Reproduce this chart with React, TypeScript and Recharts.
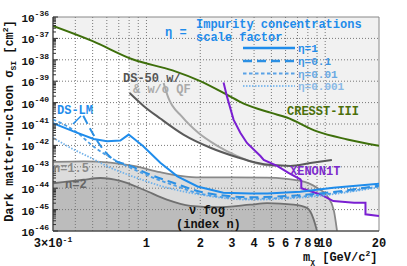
import { ComposedChart, Line, Area, XAxis, YAxis, ReferenceLine, ReferenceArea } from 'recharts';

const FONT = "'Liberation Mono', 'Courier New', monospace";

// CRESST-III limit
const cresstMass = [0.3, 0.5, 0.85, 1.4, 2.0, 2.8, 3.5, 5, 6.1, 9, 13.3, 20];
const cresstSigma = [3.8e-37, 7.4e-38, 1e-38, 3.2e-39, 1e-39, 2.4e-40, 8.9e-41, 3.3e-41, 2.0e-41, 4.5e-42, 1.9e-42, 9.5e-43];

// DS-50 with quenching fluctuations
const ds50QfMass = [0.805, 0.96, 1.195, 1.61, 2.28, 3.22, 4.07, 5.06, 6.38, 8.26, 10.9];
const ds50QfSigma = [2.8e-40, 7.2e-41, 1.8e-41, 3.2e-42, 7.8e-43, 2.8e-43, 1.6e-43, 1.2e-43, 1.1e-43, 1.5e-43, 2.1e-43];

// DS-50 without quenching fluctuations
const ds50NoQfMass = [1.247, 1.325, 1.58, 1.95, 2.48, 3.18, 4.34, 5.26];
const ds50NoQfSigma = [8.3e-40, 1.7e-40, 2.2e-41, 3.9e-42, 9.8e-43, 3.3e-43, 1.3e-43, 1.1e-43];

// XENON1T
const xenonMass = [2.7, 2.82, 3.07, 3.35, 3.65, 4.34, 4.53, 5.38, 6.23, 7.26, 7.35, 7.35, 9.42, 11.1, 14.5, 16.8, 16.8, 20];
const xenonSigma = [8.7e-40, 1.95e-40, 1.6e-41, 3.9e-42, 1.3e-42, 3.2e-43, 2.1e-43, 1.1e-43, 5.2e-44, 2.6e-44, 2.2e-44, 1e-44, 5.1e-45, 2.5e-45, 2.1e-45, 2.1e-45, 6e-46, 5e-46];

// DS-LM projections for impurity scale factor eta
const eta1Mass = [0.3, 0.391, 0.506, 0.601, 0.714, 0.795, 0.96, 1.195, 1.49, 1.93, 2.69, 3.81, 4.75, 7.26, 11.1, 20];
const eta1Sigma = [1.1e-41, 4.5e-42, 2.0e-42, 1.55e-42, 1.7e-42, 3.2e-42, 9.1e-43, 1.55e-43, 3.6e-44, 1.2e-44, 6.2e-45, 5.6e-45, 5.6e-45, 6.9e-45, 1.05e-44, 1.6e-44];
const eta01Mass = [0.443, 0.498, 0.574, 0.669, 0.782, 1.05, 1.41, 2.0, 3.81, 7.26, 20];
const eta01Sigma = [2.45e-41, 3.9e-42, 6.3e-43, 1.9e-43, 1.26e-43, 4.3e-44, 1.8e-44, 6.9e-45, 3.8e-45, 4.7e-45, 1.3e-44];
const eta001Mass = [0.3, 0.356, 0.41, 0.498, 0.628, 0.812, 1.05, 1.45, 2.0, 3.81, 7.26, 20];
const eta001Sigma = [1.6e-41, 8.3e-42, 3.9e-42, 9.8e-43, 2.7e-43, 9.1e-44, 3.5e-44, 1.3e-44, 5.5e-45, 3.2e-45, 4.0e-45, 1.2e-44];
const eta0001Mass = [0.3, 0.375, 0.485, 0.628, 0.843, 1.195, 2.0, 3.81, 7.26, 20];
const eta0001Sigma = [2.3e-42, 7.8e-43, 2.7e-43, 9.1e-44, 3.5e-44, 1.3e-44, 5.0e-45, 2.9e-45, 3.6e-45, 1.1e-44];

// neutrino fog, index n
const fog15Mass = [0.3, 0.445, 0.628, 0.847, 1.195, 1.547, 2.0, 3.06, 4.73, 7.26, 9.0, 10.24, 11.15, 11.65];
const fog15Sigma = [1.7e-43, 1.8e-43, 1.55e-43, 1.1e-43, 5.6e-44, 3.8e-44, 3.2e-44, 3.2e-44, 3.1e-44, 2.2e-44, 1.05e-44, 4.4e-45, 1.0e-45, 1e-46];
const fog2Mass = [0.3, 0.445, 0.552, 0.714, 0.964, 1.3, 1.76, 2.48, 3.81, 4.73, 6.66, 7.91, 8.62, 9.0];
const fog2Sigma = [1.7e-44, 2.5e-44, 3.0e-44, 2.2e-44, 8.5e-45, 2.9e-45, 1.5e-45, 1.3e-45, 1.7e-45, 2.0e-45, 1.7e-45, 1.2e-45, 3.5e-46, 1e-46];

// lower edge of the already excluded region (shaded)
const excludedMass = [0.3, 0.5, 0.8, 0.805, 0.96, 1.195, 1.61, 2.28, 3.22, 4.07, 5.06, 5.38, 6.23, 7.26, 7.35, 7.35, 9.42, 11.1, 14.5, 16.8, 16.8, 20];
const excludedSigma = [3.8e-37, 7.4e-38, 1.4e-38, 2.8e-40, 7.2e-41, 1.8e-41, 3.2e-42, 7.8e-43, 2.8e-43, 1.6e-43, 1.2e-43, 1.1e-43, 5.2e-44, 2.6e-44, 2.2e-44, 1e-44, 5.1e-45, 2.5e-45, 2.1e-45, 2.1e-45, 6e-46, 5e-46];

const xTicks = [0.3, 1, 2, 3, 4, 5, 6, 7, 8, 9, 10, 20];
const xGrid = [0.4, 0.5, 0.6, 0.7, 0.8, 0.9, 1, 2, 3, 4, 5, 6, 7, 8, 9, 10];
const yDecades = [1e-46, 1e-45, 1e-44, 1e-43, 1e-42, 1e-41, 1e-40, 1e-39, 1e-38, 1e-37, 1e-36];
const yMinor = yDecades.slice(0, -1).flatMap((d) => [2, 3, 4, 5, 6, 7, 8, 9].map((k) => k * d));

const pts = (m: number[], s: number[]) => m.map((v, i) => ({ m: v, s: s[i] }));

const BLUE = '#1f8ceb';

function XTick({ x, y, payload }: any) {
  const v = payload.value;
  const common = { x, y: y + 16, textAnchor: 'middle' as const, fontFamily: FONT, fontWeight: 700, fontSize: 12, fill: '#111' };
  if (v === 0.3) {
    return (
      <text {...common}>
        3×10<tspan dy={-5} fontSize={8}>-1</tspan>
      </text>
    );
  }
  return <text {...common}>{v}</text>;
}

function YTick({ x, y, payload }: any) {
  const lg = Math.log10(payload.value);
  const isDecade = Math.abs(lg - Math.round(lg)) < 1e-6;
  if (!isDecade) {
    return <line x1={x + 4} x2={x + 7} y1={y} y2={y} stroke="#333" strokeWidth={1} />;
  }
  return (
    <g>
      <line x1={x + 4} x2={x + 9} y1={y} y2={y} stroke="#333" strokeWidth={1} />
      <text x={x} y={y + 5} textAnchor="end" fontFamily={FONT} fontWeight={700} fontSize={11} fill="#111">
        10<tspan dy={-6} fontSize={8}>{Math.round(lg)}</tspan>
      </text>
    </g>
  );
}

function Overlay() {
  const t = { fontFamily: FONT, fontWeight: 700, fontSize: 12 };
  const l = { fontFamily: FONT, fontWeight: 700, fontSize: 11 };
  return (
    <svg width={407} height={266} style={{ position: 'absolute', left: 0, top: 0, pointerEvents: 'none' }}>
      <text {...t} x={165} y={36} fill={BLUE}>η =</text>
      <text {...t} x={196} y={28} fill={BLUE}>Impurity concentrations</text>
      <text {...t} x={196} y={41} fill={BLUE}>scale factor</text>
      <line x1={243} x2={295} y1={48} y2={48} stroke={BLUE} strokeWidth={2.5} />
      <line x1={243} x2={295} y1={61} y2={61} stroke="#2b8fe3" strokeWidth={2.5} strokeDasharray="9 5" />
      <line x1={243} x2={295} y1={73.5} y2={73.5} stroke="#5aa2e6" strokeWidth={1.8} strokeDasharray="3.5 2.5" />
      <line x1={243} x2={295} y1={86} y2={86} stroke="#86bdee" strokeWidth={1.8} strokeDasharray="1.5 1.5" />
      <text {...l} x={298} y={52} fill={BLUE}>η=1</text>
      <text {...l} x={298} y={65} fill="#3d94e0">η=0.1</text>
      <text {...l} x={298} y={77.5} fill="#6aa9e2">η=0.01</text>
      <text {...l} x={298} y={90} fill="#8ab9e6">η=0.001</text>

      <text {...t} x={123} y={82} fill="#555">DS-50 w/</text>
      <text {...t} x={133} y={93} fill="#aaa">&amp; w/o QF</text>
      <text {...t} x={287} y={115} fill="#4b6f0a">CRESST-III</text>
      <text {...t} x={290} y={175} fill="#7d2bcc">XENON1T</text>
      <text {...t} x={57} y={114} fill={BLUE}>DS-LM</text>
      <line x1={73} y1={124} x2={81} y2={116} stroke={BLUE} strokeWidth={1.5} />
      <text {...t} x={53} y={172} fill="#8a8a8a">n=1.5</text>
      <text {...t} x={65} y={188} fill="#666">n=2</text>
      <text {...t} x={189} y={214} fill="#111">ν fog</text>
      <text {...t} x={176} y={228} fill="#111">(index n)</text>

      <text {...t} x={303} y={261} fill="#111">
        m<tspan dy={3} fontSize={8}>χ</tspan>
        <tspan dy={-3}> [GeV/c</tspan>
        <tspan dy={-5} fontSize={8}>2</tspan>
        <tspan dy={5}>]</tspan>
      </text>
      <text {...t} fontSize={12} transform="translate(13,121) rotate(-90)" textAnchor="middle" fill="#111">
        Dark matter-nucleon σ<tspan dy={3} fontSize={8}>SI</tspan>
        <tspan dy={-3}> [cm</tspan>
        <tspan dy={-5} fontSize={8}>2</tspan>
        <tspan dy={5}>]</tspan>
      </text>
    </svg>
  );
}

export default function App() {
  return (
    <div style={{ position: 'fixed', left: 0, top: 0, width: 407, height: 266, background: '#fff' }}>
      <ComposedChart width={407} height={266} margin={{ top: 17, right: 28, bottom: 0, left: 0 }}>
        <XAxis
          type="number"
          dataKey="m"
          scale="log"
          domain={[0.3, 20]}
          allowDataOverflow
          ticks={xTicks}
          interval={0}
          height={35}
          tickLine={false}
          tickSize={0}
          tickMargin={0}
          tick={<XTick />}
          axisLine={{ stroke: '#333' }}
        />
        <YAxis
          type="number"
          dataKey="s"
          scale="log"
          domain={[1e-46, 1e-36]}
          allowDataOverflow
          ticks={[...yDecades, ...yMinor]}
          interval={0}
          width={53}
          tickLine={false}
          tickSize={0}
          tickMargin={4}
          tick={<YTick />}
          axisLine={{ stroke: '#333' }}
        />
        <Area data={pts(excludedMass, excludedSigma)} dataKey="s" type="linear" baseValue="dataMax" fill="#f1f1f1" fillOpacity={1} stroke="none" isAnimationActive={false} />
        <Area data={pts(fog15Mass, fog15Sigma)} dataKey="s" type="monotone" baseValue="dataMin" fill="#dcdcdc" fillOpacity={1} stroke="#888" strokeWidth={1.8} isAnimationActive={false} />
        <Area data={pts(fog2Mass, fog2Sigma)} dataKey="s" type="monotone" baseValue="dataMin" fill="#bcbcbc" fillOpacity={1} stroke="#707070" strokeWidth={1.8} isAnimationActive={false} />
        {yDecades.slice(1, -1).map((v) => (
          <ReferenceLine key={'y' + v} y={v} stroke="#777" strokeDasharray="1 2" />
        ))}
        {xGrid.map((v) => (
          <ReferenceLine key={'x' + v} x={v} stroke="#777" strokeDasharray="1 2" />
        ))}
        <Line data={pts(cresstMass, cresstSigma)} dataKey="s" type="monotone" stroke="#3e6f0b" strokeWidth={2} dot={false} isAnimationActive={false} />
        <Line data={pts(ds50NoQfMass, ds50NoQfSigma)} dataKey="s" type="monotone" stroke="#a8a8a8" strokeWidth={2} dot={false} isAnimationActive={false} />
        <Line data={pts(ds50QfMass, ds50QfSigma)} dataKey="s" type="monotone" stroke="#5a5a5a" strokeWidth={2} dot={false} isAnimationActive={false} />
        <Line data={pts(xenonMass, xenonSigma)} dataKey="s" type="linear" stroke="#7a1fd2" strokeWidth={2} dot={false} isAnimationActive={false} />
        <Line data={pts(eta0001Mass, eta0001Sigma)} dataKey="s" type="monotone" stroke="#72b2ea" strokeWidth={1.8} strokeDasharray="1.5 1.5" dot={false} isAnimationActive={false} />
        <Line data={pts(eta001Mass, eta001Sigma)} dataKey="s" type="monotone" stroke="#4d9fe6" strokeWidth={1.8} strokeDasharray="3.5 2.5" dot={false} isAnimationActive={false} />
        <Line data={pts(eta01Mass, eta01Sigma)} dataKey="s" type="monotone" stroke="#2b8fe3" strokeWidth={2} strokeDasharray="9 5" dot={false} isAnimationActive={false} />
        <Line data={pts(eta1Mass, eta1Sigma)} dataKey="s" type="linear" stroke={BLUE} strokeWidth={2} dot={false} isAnimationActive={false} />
        <ReferenceArea x1={0.3} x2={20} y1={1e-46} y2={1e-36} fill="none" stroke="#888" strokeWidth={1} />
      </ComposedChart>
      <Overlay />
    </div>
  );
}
